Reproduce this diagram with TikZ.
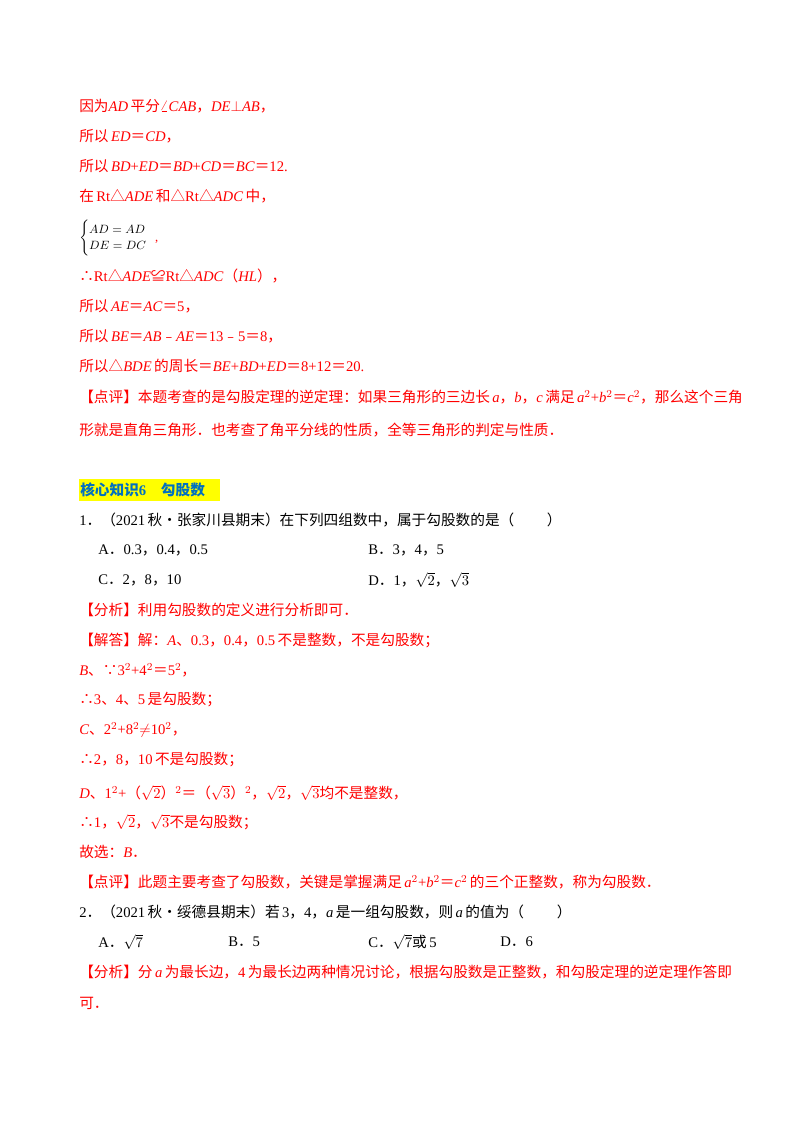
\documentclass[tikz,border=0pt]{standalone}
\usepackage{amsmath}
\usepackage{fontspec}
\setmainfont{Liberation Serif}
\newfontfamily\cjk{Noto Sans CJK SC}
\newcommand{\C}[1]{{\cjk #1}}
\newcommand{\I}[1]{\textit{#1}}
\newcommand{\EQ}{\C{＝}}
\newcommand{\TR}{\C{△}}
\newcommand{\THF}{\C{∴}}
\newcommand{\BEC}{\C{∵}}
\newcommand{\MN}{\C{﹣}}
\newcommand{\FP}{\C{．}}
\definecolor{rd}{RGB}{255,0,0}
\definecolor{hb}{RGB}{0,112,192}
\definecolor{hy}{RGB}{255,255,0}
\begin{document}
\begin{tikzpicture}[x=0.75pt,y=-0.75pt,
  every node/.style={inner sep=0pt,anchor=west,font=\fontsize{11}{13}\selectfont},
  r/.style={text=rd}, k/.style={text=black}]
\useasboundingbox (0,0) rectangle (800,1132);
\fill[white] (0,0) rectangle (800,1132);
\node[r] (l1) at (79,106) {\C{因为}\I{AD}\,\C{平分}$\angle$\I{CAB}\C{，}\I{DE}$\perp$\I{AB}\C{，}};
\node[r] (l2) at (79,136) {\C{所以}\,\I{ED}\EQ\I{CD}\C{，}};
\node[r] (l3) at (79,166) {\C{所以}\,\I{BD}+\I{ED}\EQ\I{BD}+\I{CD}\EQ\I{BC}\EQ12.};
\node[r] (l4) at (79,196) {\C{在}\,Rt\TR\I{ADE}\,\C{和}\TR Rt\TR\I{ADC}\,\C{中，}};
\node[k,font=\fontsize{9.5}{10}\selectfont] (l5) at (79,238) {$\begin{cases}AD=AD\\ DE=DC\end{cases}$\hspace{-4pt}\textcolor{rd}{,}};
\node[r] (l6) at (79,276) {\THF Rt\TR\I{ADE}\C{≌}Rt\TR\I{ADC}\C{（}\I{HL}\C{），}};
\node[r] (l7) at (79,306) {\C{所以}\,\I{AE}\EQ\I{AC}\EQ5\C{，}};
\node[r] (l8) at (79,336) {\C{所以}\,\I{BE}\EQ\I{AB}\MN\I{AE}\EQ13\MN5\EQ8\C{，}};
\node[r] (l9) at (79,366) {\C{所以}\TR\I{BDE}\,\C{的周长}\EQ\I{BE}+\I{BD}+\I{ED}\EQ8+12\EQ20.};
\node[r] (l10) at (79,397) {\C{【点评】本题考查的是勾股定理的逆定理：如果三角形的三边长}\,\I{a}\C{，}\I{b}\C{，}\I{c}\,\C{满足}\,\I{a}$^2$+\I{b}$^2$\EQ\I{c}$^2$\C{，那么这个三角}};
\node[r] (l11) at (79,430) {\C{形就是直角三角形．也考查了角平分线的性质，全等三角形的判定与性质．}};
\fill[hy] (79,479) rectangle (220,501);
\node[text=hb] (h) at (80,490) {\C{\bfseries 核心知识}\textbf{6}\quad\C{\bfseries 勾股数}};
\node[k] (q1) at (79,520) {1\FP\C{（}2021\,\C{秋•张家川县期末）在下列四组数中，属于勾股数的是（\qquad\ ）}};
\node[k] (q1a) at (98,550) {A\FP 0.3\C{，}0.4\C{，}0.5};
\node[k] (q1b) at (368,550) {B\FP 3\C{，}4\C{，}5};
\node[k] (q1c) at (98,580) {C\FP 2\C{，}8\C{，}10};
\node[k] (q1d) at (368,580) {D\FP 1\C{，}$\sqrt{2}$\C{，}$\sqrt{3}$};
\node[r] (a1) at (79,610) {\C{【分析】利用勾股数的定义进行分析即可．}};
\node[r] (a2) at (79,640) {\C{【解答】解：}\I{A}\C{、}0.3\C{，}0.4\C{，}0.5\,\C{不是整数，不是勾股数；}};
\node[r] (a3) at (79,670) {\I{B}\C{、}\BEC 3$^2$+4$^2$\EQ5$^2$\C{，}};
\node[r] (a4) at (79,700) {\THF 3\C{、}4\C{、}5\,\C{是勾股数；}};
\node[r] (a5) at (79,730) {\I{C}\C{、}2$^2$+8$^2$$\neq$10$^2$\C{，}};
\node[r] (a6) at (79,760) {\THF 2\C{，}8\C{，}10\,\C{不是勾股数；}};
\node[r] (a7) at (79,793) {\I{D}\C{、}1$^2$+\C{（}$\sqrt{2}$\C{）}$^2$\EQ\C{（}$\sqrt{3}$\C{）}$^2$\C{，}$\sqrt{2}$\C{，}$\sqrt{3}$\C{均不是整数，}};
\node[r] (a8) at (79,822) {\THF 1\C{，}$\sqrt{2}$\C{，}$\sqrt{3}$\C{不是勾股数；}};
\node[r] (a9) at (79,852) {\C{故选：}\I{B}\FP};
\node[r] (a10) at (79,882) {\C{【点评】此题主要考查了勾股数，关键是掌握满足}\,\I{a}$^2$+\I{b}$^2$\EQ\I{c}$^2$\,\C{的三个正整数，称为勾股数．}};
\node[k] (q2) at (79,912) {2\FP\C{（}2021\,\C{秋•绥德县期末）若}\,3\C{，}4\C{，}\I{a}\,\C{是一组勾股数，则}\,\I{a}\,\C{的值为（\qquad\ ）}};
\node[k] (q2a) at (98,942) {A\FP$\sqrt{7}$};
\node[k] (q2b) at (228,942) {B\FP 5};
\node[k] (q2c) at (368,942) {C\FP$\sqrt{7}$\C{或}\,5};
\node[k] (q2d) at (500,942) {D\FP 6};
\node[r] (b1) at (79,972) {\C{【分析】分}\,\I{a}\,\C{为最长边，}4\,\C{为最长边两种情况讨论，根据勾股数是正整数，和勾股定理的逆定理作答即}};
\node[r] (b2) at (79,1003) {\C{可．}};
\end{tikzpicture}
\end{document}
